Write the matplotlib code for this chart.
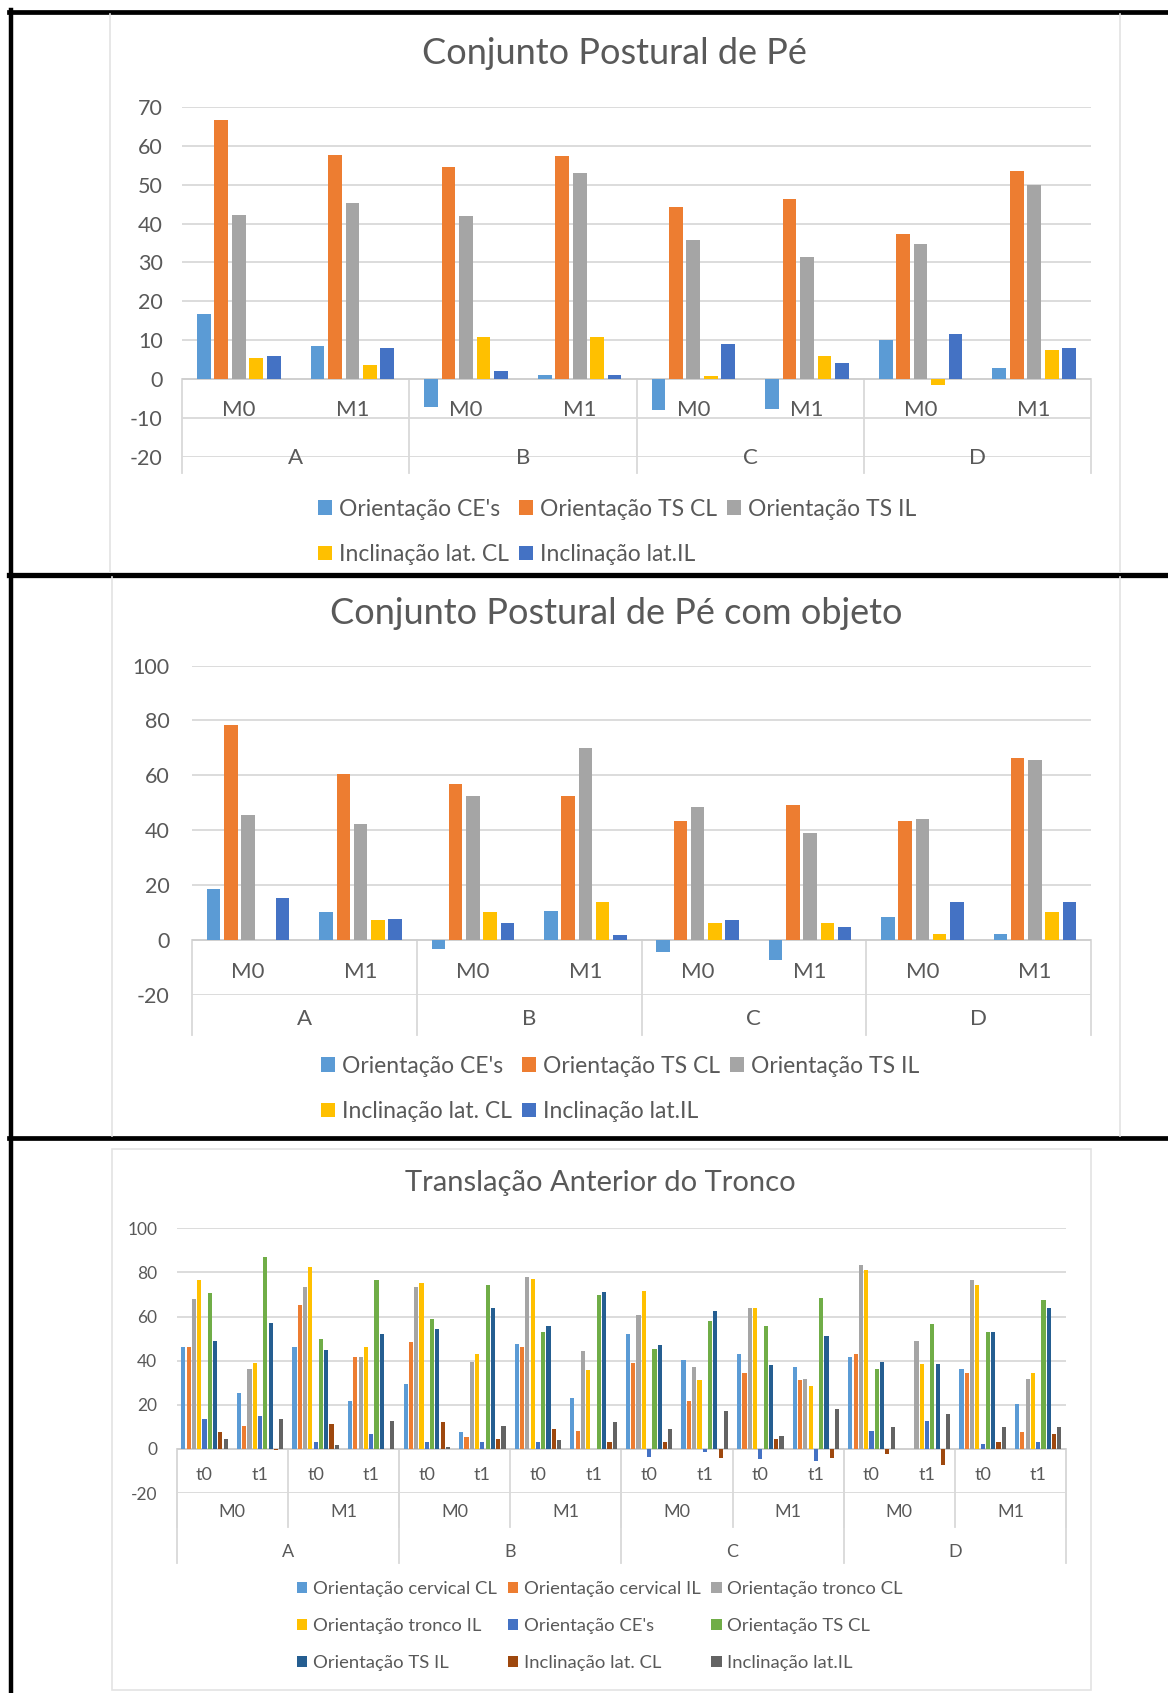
import matplotlib
matplotlib.use("Agg")
import matplotlib.pyplot as plt
import numpy as np
from matplotlib.patches import Patch, Rectangle
from matplotlib.lines import Line2D
from matplotlib.transforms import blended_transform_factory

plt.rcParams['font.family'] = ['Lato', 'DejaVu Sans']
plt.rcParams['axes.unicode_minus'] = False

#%%======================= DATA ==============================================#
groups = ['A', 'B', 'C', 'D']
moments = ['M0', 'M1']
times = ['t0', 't1']

labels_5 = ["Orientação CE's", "Orientação TS CL", "Orientação TS IL",
            "Inclinação lat. CL", "Inclinação lat.IL"]
colors_5 = ['#5B9BD5', '#ED7D31', '#A5A5A5', '#FFC000', '#4472C4']

# Conjunto Postural de Pé  (A-M0, A-M1, B-M0, B-M1, C-M0, C-M1, D-M0, D-M1)
pe_ce = [16.7, 8.4, -7.2, 1.1, -8.1, -7.7, 10.0, 2.7]
pe_ts_cl = [66.7, 57.7, 54.6, 57.3, 44.2, 46.3, 37.4, 53.5]
pe_ts_il = [42.1, 45.2, 42.0, 53.1, 35.7, 31.5, 34.7, 50.0]
pe_incl_cl = [5.4, 3.6, 10.7, 10.7, 0.7, 5.9, -1.6, 7.5]
pe_incl_il = [5.9, 7.9, 2.1, 1.1, 9.0, 4.2, 11.7, 7.9]

# Conjunto Postural de Pé com objeto
obj_ce = [18.7, 10.0, -3.5, 10.7, -4.3, -7.2, 8.4, 2.0]
obj_ts_cl = [78.4, 60.3, 56.8, 52.3, 43.5, 49.3, 43.5, 66.3]
obj_ts_il = [45.5, 42.4, 52.3, 70.0, 48.4, 38.8, 44.0, 65.6]
obj_incl_cl = [0.0, 7.1, 10.0, 13.9, 6.3, 6.3, 2.0, 10.0]
obj_incl_il = [15.1, 7.7, 6.3, 1.7, 7.1, 4.8, 13.9, 13.9]

# Translação Anterior do Tronco (A-M0-t0, A-M0-t1, A-M1-t0, A-M1-t1, B-M0-t0, ...)
labels_9 = ["Orientação cervical CL", "Orientação cervical IL", "Orientação tronco CL",
            "Orientação tronco IL", "Orientação CE's", "Orientação TS CL",
            "Orientação TS IL", "Inclinação lat. CL", "Inclinação lat.IL"]
colors_9 = ['#5B9BD5', '#ED7D31', '#A5A5A5', '#FFC000', '#4472C4',
            '#70AD47', '#255E91', '#9E480E', '#636363']

tr_cerv_cl = [46.2, 25.4, 46.2, 21.7, 29.2, 7.5, 47.7, 23.2,
              51.9, 40.2, 43.2, 37.3, 41.7, 0.0, 36.4, 20.2]
tr_cerv_il = [46.2, 10.5, 65.3, 41.7, 48.4, 5.3, 46.2, 8.3,
              39.1, 21.7, 34.3, 31.1, 43.2, 0.0, 34.3, 7.5]
tr_tronco_cl = [68.1, 36.4, 73.4, 41.7, 73.2, 39.4, 77.9, 44.5,
                60.9, 37.3, 63.9, 31.9, 83.2, 48.9, 76.4, 31.9]
tr_tronco_il = [76.4, 39.1, 82.4, 46.2, 75.2, 43.2, 77.1, 35.8,
                71.4, 31.1, 63.9, 28.3, 80.9, 38.6, 74.1, 34.3]
tr_ce = [13.4, 15.0, 3.2, 6.8, 3.2, 3.2, 3.2, 0.0,
         -3.5, -1.5, -4.7, -5.3, 8.3, 12.8, 2.3, 3.2]
tr_ts_cl = [70.5, 86.8, 49.8, 76.4, 58.9, 74.1, 52.8, 69.8,
            45.4, 57.9, 55.6, 68.3, 36.4, 56.4, 52.8, 67.5]
tr_ts_il = [48.9, 57.1, 44.7, 52.0, 54.3, 63.9, 55.6, 71.3,
            46.9, 62.4, 37.9, 51.3, 39.4, 38.6, 52.8, 63.9]
tr_incl_cl = [7.7, -0.5, 11.3, 0.0, 12.0, 4.5, 9.0, 3.0,
              3.3, -4.0, 4.5, -4.0, -2.5, -7.5, 3.2, 6.8]
tr_incl_il = [4.5, 13.5, 1.7, 12.8, 1.0, 10.5, 3.9, 12.0,
              9.0, 17.3, 6.0, 17.9, 9.8, 15.8, 9.8, 9.8]

#%%======================= FIGURE ============================================#
W, H = 1168, 1693
fig = plt.figure(figsize=(W / 100, H / 100), dpi=100)
TXT = '#595959'
GRID = '#D9D9D9'


def fx(px):
    return px / W


def fy(px):
    return 1 - px / H


def axes_px(x0, x1, y0, y1):
    return fig.add_axes([fx(x0), fy(y1), fx(x1) - fx(x0), fy(y0) - fy(y1)])


def fig_line(xs, ys, **kw):
    fig.add_artist(Line2D([fx(x) for x in xs], [fy(y) for y in ys],
                          transform=fig.transFigure, **kw))


def style_axes(ax, n_cat, lo, hi, step, tsize, pad):
    ax.set_xlim(-0.5, n_cat - 0.5)
    ax.set_ylim(lo, hi)
    ax.set_yticks(np.arange(lo, hi + 1, step))
    ax.set_xticks([])
    for s in ax.spines.values():
        s.set_visible(False)
    ax.grid(axis='y', color=GRID, lw=1.3)
    ax.set_axisbelow(True)
    ax.tick_params(axis='y', length=0, labelsize=tsize, labelcolor=TXT, pad=pad)
    ax.axhline(0, color='#CFCFCF', lw=1.3, zorder=2)
    ax.patch.set_alpha(0)


def draw_bars(ax, series, colors):
    # clustered columns: 27% spacing between bars, 219% gap between clusters
    n = len(series)
    w = 1 / (n + (n - 1) * 0.27 + 2.19)
    step = 1.27 * w
    x = np.arange(len(series[0]))
    for i, (vals, c) in enumerate(zip(series, colors)):
        ax.bar(x + (i - (n - 1) / 2) * step, vals, width=w, color=c, zorder=3)


def legend_rows(labels, colors, ncol, cx, cy, size, hl, tp, cs, ls):
    handles = [Patch(facecolor=c, edgecolor='none') for c in colors]
    n = len(labels)
    # legend fills column by column, reorder so items read row by row
    order = [i for c in range(ncol) for i in range(c, n, ncol)]
    fig.legend([handles[i] for i in order], [labels[i] for i in order], ncol=ncol,
               loc='center', bbox_to_anchor=(fx(cx), fy(cy)), frameon=False,
               fontsize=size, handlelength=hl, handleheight=hl, handletextpad=tp,
               columnspacing=cs, labelspacing=ls, labelcolor=TXT, borderpad=0)


def cat_axis(ax, zero_y, levels, row_y, sep_bottoms, sizes):
    # multi-level category labels under the zero line, dividers for outer levels
    tr = blended_transform_factory(ax.transData, fig.transFigure)
    n_cat = int(round(ax.get_xlim()[1] + 0.5))
    span = 1
    for lev, (labs, y, size) in enumerate(zip(levels, row_y, sizes)):
        n_lab = n_cat // span
        for k in range(n_lab):
            xc = k * span + (span - 1) / 2
            ax.text(xc, fy(y), labs[k % len(labs)], transform=tr, ha='center',
                    va='center', fontsize=size, color=TXT, clip_on=False)
        if lev > 0:
            for k in range(n_lab + 1):
                xb = k * span - 0.5
                ax.plot([xb, xb], [fy(zero_y), fy(sep_bottoms[lev - 1])],
                        transform=tr, color=GRID, lw=1.3, clip_on=False, zorder=1)
        span *= len(labs)


# ---- borders / chart areas
fig_line([10.5, 10.5], [10, H], color='black', lw=3.2)
fig_line([8.5, W], [11.7, 11.7], color='black', lw=3.4)
fig_line([8.5, W], [574.5, 574.5], color='black', lw=3.8)
fig_line([8.5, W], [1138, 1138], color='black', lw=3.4)
fig_line([110, 110], [14, 572], color='#E3E3E3', lw=1.2)
fig_line([1120, 1120], [14, 572], color='#E3E3E3', lw=1.2)
fig_line([112, 112], [577, 1136], color='#E3E3E3', lw=1.2)
fig_line([1120, 1120], [577, 1136], color='#E3E3E3', lw=1.2)
fig.add_artist(Rectangle((fx(112), fy(1690)), fx(1091) - fx(112), fy(1149) - fy(1690),
                         transform=fig.transFigure, fill=False, edgecolor='#E3E3E3', lw=1.2))

# ---- Conjunto Postural de Pé
ax1 = axes_px(182, 1091, 107, 456.7)
style_axes(ax1, 8, -20, 70, 10, 15.5, 14)
draw_bars(ax1, [pe_ce, pe_ts_cl, pe_ts_il, pe_incl_cl, pe_incl_il], colors_5)
cat_axis(ax1, 379.3, [moments, groups], [410, 458], [473], [16, 16])
fig.text(fx(614), fy(53), 'Conjunto Postural de Pé', ha='center', va='center',
         fontsize=26, color=TXT)
legend_rows(labels_5, colors_5, 3, 617, 532, 16.5, 0.6, 0.3, 0.45, 1.07)

# ---- Conjunto Postural de Pé com objeto
ax2 = axes_px(192, 1091, 665.6, 994.7)
style_axes(ax2, 8, -20, 100, 20, 15.5, 16)
draw_bars(ax2, [obj_ce, obj_ts_cl, obj_ts_il, obj_incl_cl, obj_incl_il], colors_5)
cat_axis(ax2, 940, [moments, groups], [972, 1019], [1035], [16, 16])
fig.text(fx(616), fy(613), 'Conjunto Postural de Pé com objeto', ha='center', va='center',
         fontsize=26, color=TXT)
legend_rows(labels_5, colors_5, 3, 620, 1089, 16.5, 0.6, 0.3, 0.45, 1.07)

# ---- Translação Anterior do Tronco
ax3 = axes_px(176.7, 1066, 1228.3, 1493)
style_axes(ax3, 16, -20, 100, 20, 12.5, 14)
draw_bars(ax3, [tr_cerv_cl, tr_cerv_il, tr_tronco_cl, tr_tronco_il, tr_ce,
                tr_ts_cl, tr_ts_il, tr_incl_cl, tr_incl_il], colors_9)
cat_axis(ax3, 1449.3, [times, moments, groups], [1475, 1511.7, 1551.7], [1527, 1563],
         [13, 13, 13])
fig.text(fx(600), fy(1183), 'Translação Anterior do Tronco', ha='center', va='center',
         fontsize=21, color=TXT)
legend_rows(labels_9, colors_9, 3, 600, 1626, 13.3, 0.55, 0.3, 0.6, 1.12)

fig.savefig('out.png', dpi=100, facecolor='white')
